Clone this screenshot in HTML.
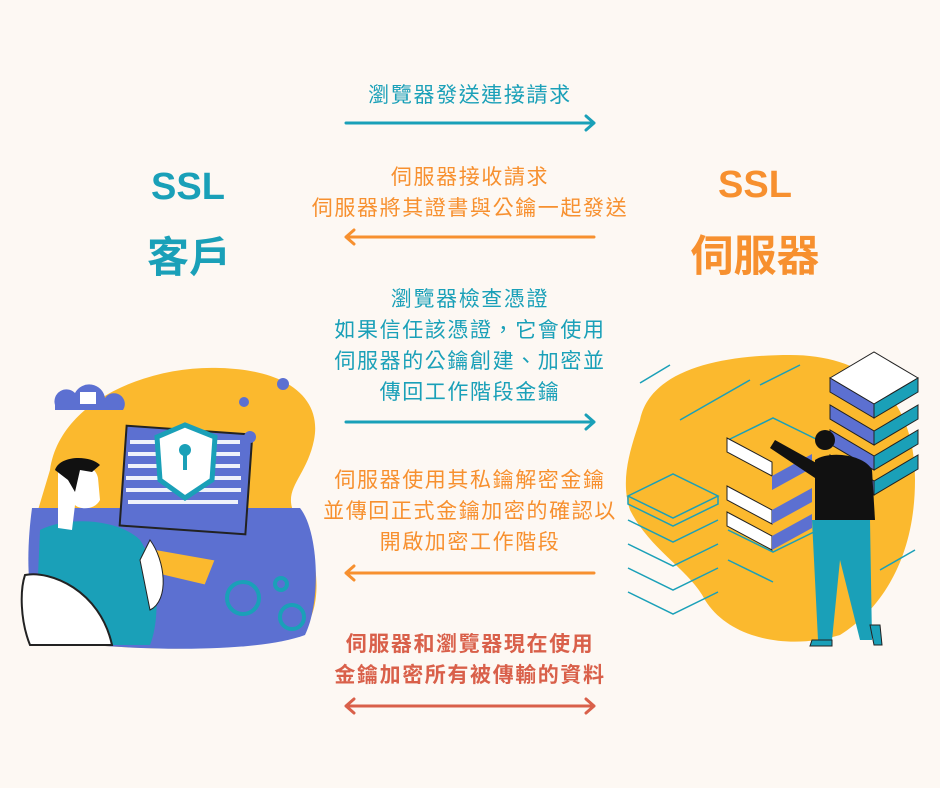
<!DOCTYPE html>
<html><head><meta charset="utf-8"><style>
html,body{margin:0;padding:0}
body{width:940px;height:788px;background:#fdf8f3;position:relative;overflow:hidden;font-family:"Liberation Sans","Noto Sans CJK TC",sans-serif}
.t{position:absolute;left:220px;width:500px;text-align:center;font-size:21px;letter-spacing:1.6px;line-height:31px;white-space:nowrap}
.teal{color:#1aa0b8}.or{color:#f7902f}.red{color:#d9604a;font-weight:bold}
.big{position:absolute;text-align:center;font-weight:bold;white-space:nowrap}
svg{position:absolute;left:0;top:0}
</style></head><body>
<svg width="940" height="788" viewBox="0 0 940 788">
<!-- left illustration -->
<path d="M50 470 C60 400 150 365 220 368 C290 370 322 400 314 440 C306 480 278 490 298 520 C322 560 322 610 302 632 C260 652 150 652 60 642 C20 630 30 560 35 520 Z" fill="#fbb92e"/>
<path d="M32 508 L300 508 C318 530 322 600 305 635 C260 652 150 652 60 642 C25 630 25 560 32 508 Z" fill="#5c70d1"/>
<path d="M55 405 a12 12 0 0 1 20 -12 a16 16 0 0 1 30 5 a10 10 0 0 1 18 12 l-68 0 Z" fill="#5c70d1"/>
<rect x="80" y="392" width="16" height="12" fill="#fff"/>
<rect x="123" y="430" width="126" height="100" fill="#5c70d1" stroke="#222" stroke-width="2" transform="rotate(4 186 480)"/>
<g fill="#fff" opacity="0.9">
<rect x="130" y="440" width="110" height="4"/><rect x="128" y="452" width="112" height="4"/><rect x="128" y="464" width="112" height="4"/><rect x="126" y="476" width="115" height="4"/><rect x="126" y="488" width="115" height="4"/><rect x="128" y="500" width="110" height="4"/></g>
<path d="M185 425 L215 437 L212 480 L185 498 L160 480 L157 437 Z" fill="#fff" stroke="#1aa0b8" stroke-width="5"/>
<circle cx="185" cy="450" r="6" fill="#1aa0b8"/><rect x="183" y="452" width="4" height="18" fill="#1aa0b8"/>
<path d="M130 545 L215 560 L205 585 L120 565 Z" fill="#fbb92e" stroke="#5c70d1" stroke-width="1"/>
<path d="M40 530 C70 515 120 520 140 540 C160 570 160 620 150 645 L35 645 Z" fill="#1aa0b8"/>
<path d="M25 575 C50 570 100 590 112 645 L30 645 C20 620 20 590 25 575 Z" fill="#fff" stroke="#222" stroke-width="2"/>
<path d="M58 470 C70 460 95 462 98 478 L100 500 C95 510 80 510 75 505 L72 530 L58 528 Z" fill="#fff"/>
<path d="M55 470 C60 455 90 455 100 465 L92 472 L80 470 L75 492 L68 480 Z" fill="#111"/>
<path d="M150 540 C165 560 170 600 150 610 L140 560 Z" fill="#fff" stroke="#222"/>
<g fill="none" stroke="#1aa0b8" stroke-width="4"><circle cx="243" cy="598" r="16"/><circle cx="292" cy="617" r="12"/><circle cx="281" cy="584" r="6"/></g>
<circle cx="250" cy="437" r="6" fill="#5c70d1"/><circle cx="283" cy="384" r="6" fill="#5c70d1"/><circle cx="244" cy="402" r="5" fill="#5c70d1"/>
<!-- right illustration -->
<path d="M640 420 C650 370 720 355 790 355 C870 355 915 400 915 480 C915 560 880 610 840 635 C790 650 730 640 705 600 C690 570 650 550 630 510 C620 480 630 450 640 420 Z" fill="#fbb92e"/>
<g stroke="#1aa0b8" stroke-width="1.5" fill="none">
<path d="M628 496 L673 474 L718 496 L673 518 Z M628 496 v8 l45 22 45 -22 v-8"/><path d="M628 520 l45 22 45 -22 M628 544 l45 22 45 -22 M628 568 l45 22 45 -22 M628 592 l45 22 45 -22"/>
<path d="M728 440 l45 -22 45 22 M728 530 l45 22 45 -22 M728 560 l45 22"/>
<line x1="640" y1 ="383" x2="670" y2="365"/><line x1="680" y1="420" x2="750" y2="380"/><line x1="760" y1="385" x2="800" y2="365"/><line x1="880" y1="570" x2="915" y2="550"/>
</g>
<g>
<path d="M830 378 L874 352 L918 378 L874 404 Z" fill="#fff" stroke="#222"/><path d="M830 378 v14 l44 26 v-14 Z" fill="#5c70d1" stroke="#222"/><path d="M918 378 v14 l-44 26 v-14 Z" fill="#1aa0b8" stroke="#222"/>
<path d="M830 405 v14 l44 26 44 -26 v-14 l-44 26 Z" fill="#1aa0b8" stroke="#222"/><path d="M830 405 v14 l44 26 v-14Z" fill="#5c70d1" stroke="#222"/>
<path d="M830 430 v14 l44 26 44 -26 v-14 l-44 26 Z" fill="#1aa0b8" stroke="#222"/><path d="M830 430 v14 l44 26 v-14Z" fill="#5c70d1" stroke="#222"/>
<path d="M830 455 v14 l44 26 44 -26 v-14 l-44 26 Z" fill="#1aa0b8" stroke="#222"/><path d="M830 455 v14 l44 26 v-14Z" fill="#5c70d1" stroke="#222"/>
<path d="M727 438 l45 24 v14 l-45 -24 Z" fill="#fff" stroke="#222"/><path d="M772 476 l40 -22 v14 l-40 22Z" fill="#5c70d1"/>
<path d="M727 486 l45 24 v14 l-45 -24 Z" fill="#fff" stroke="#222"/><path d="M772 510 l40 -22 v14 l-40 22Z" fill="#5c70d1"/>
<path d="M727 512 l45 24 v14 l-45 -24 Z" fill="#fff" stroke="#222"/><path d="M772 536 l40 -22 v14 l-40 22Z" fill="#5c70d1"/>
</g>
<path d="M815 460 C830 450 865 455 872 470 L875 520 L815 520 Z" fill="#111"/>
<path d="M812 520 L870 520 L872 640 L860 640 L840 560 L832 640 L818 640 Z" fill="#1aa0b8"/>
<path d="M775 440 L820 465 L815 478 L770 448 Z" fill="#111"/>
<circle cx="825" cy="440" r="10" fill="#111"/>
<path d="M812 640 l20 0 l0 6 l-22 0Z M870 625 l10 0 l2 20 l-8 0Z" fill="#1aa0b8" stroke="#222"/>
<!-- arrows -->
<g stroke-linecap="round" stroke-linejoin="round" fill="none" stroke-width="3">
<g stroke="#1aa0b8"><path d="M346 123 H594 M586 116 L594 123 L586 130"/><path d="M346 422 H594 M586 415 L594 422 L586 429"/></g>
<g stroke="#f7902f"><path d="M346 237 H594 M354 230 L346 237 L354 244"/><path d="M346 573 H594 M354 566 L346 573 L354 580"/></g>
<g stroke="#d9604a"><path d="M346 706 H594 M354 699 L346 706 L354 713 M586 699 L594 706 L586 713"/></g>
</g>
</svg>
<div class="big" style="left:138px;top:166px;width:100px;font-size:38px;color:#1aa0b8">SSL</div>
<div class="big" style="left:124px;top:224px;width:130px;font-size:42px;color:#1aa0b8">客戶</div>
<div class="big" style="left:705px;top:164px;width:100px;font-size:38px;color:#f7902f">SSL</div>
<div class="big" style="left:670px;top:222px;width:170px;font-size:43px;color:#f7902f">伺服器</div>
<div class="t teal" style="top:80px">瀏覽器發送連接請求</div>
<div class="t or" style="top:162px">伺服器接收請求<br>伺服器將其證書與公鑰一起發送</div>
<div class="t teal" style="top:284px">瀏覽器檢查憑證<br>如果信任該憑證，它會使用<br>伺服器的公鑰創建、加密並<br>傳回工作階段金鑰</div>
<div class="t or" style="top:465px">伺服器使用其私鑰解密金鑰<br>並傳回正式金鑰加密的確認以<br>開啟加密工作階段</div>
<div class="t red" style="top:629px">伺服器和瀏覽器現在使用<br>金鑰加密所有被傳輸的資料</div>
</body></html>
